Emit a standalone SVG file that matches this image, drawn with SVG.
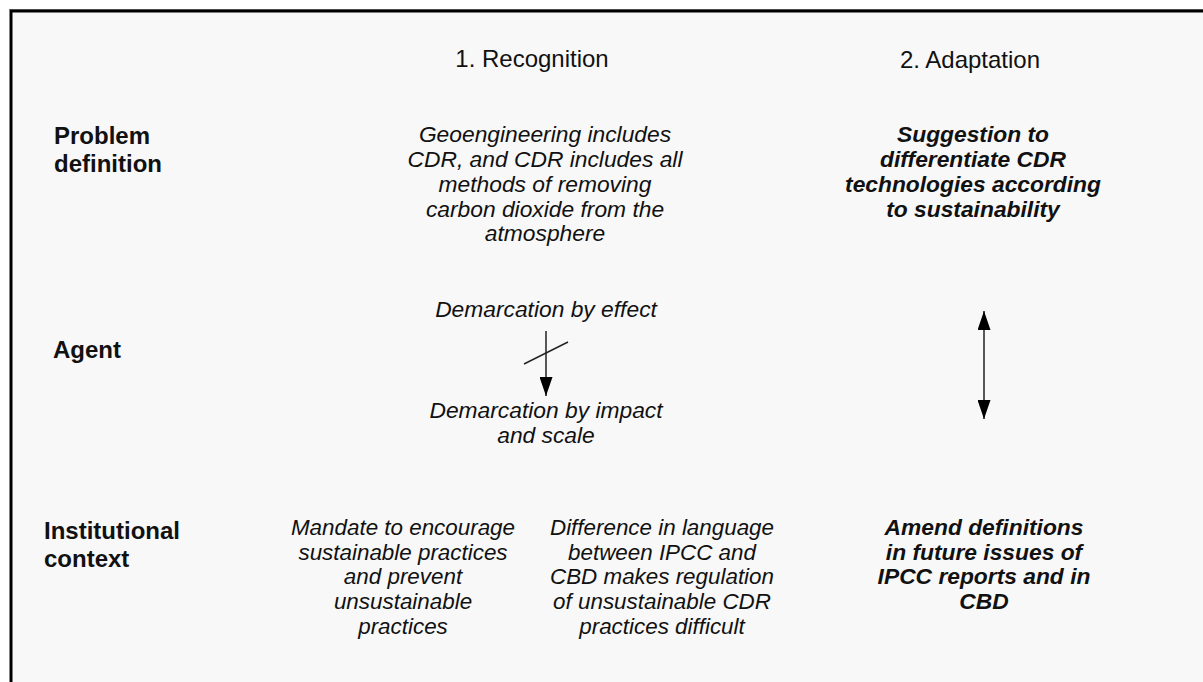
<svg xmlns="http://www.w3.org/2000/svg" width="1203" height="682" viewBox="0 0 1203 682">
<style>
text{font-family:"Liberation Sans",Arial,sans-serif;font-size:22.8px;fill:#111;text-anchor:middle}
.hd{font-size:24px}
.lbl{font-weight:bold;text-anchor:start;font-size:24px}
.it{font-style:italic}
.sm{font-size:22.4px}
.bi{font-style:italic;font-weight:bold}
.ln{stroke:#222;stroke-width:1.5;fill:none}
</style>
<defs>
<marker id="ah2" viewBox="0 0 10 10" refX="10" refY="5" markerWidth="19" markerHeight="13" markerUnits="userSpaceOnUse" orient="auto-start-reverse" preserveAspectRatio="none"><path d="M0,0 L10,5 L0,10 z" fill="#000"/></marker>
</defs>
<rect x="0" y="0" width="1203" height="682" fill="#fff"/>
<rect x="11" y="11" width="1192" height="671" fill="#f8f8f8"/>
<line x1="9" y1="9.5" x2="1203" y2="9.5" stroke="#999" stroke-width="1"/>
<path d="M11,682 V11 H1203" stroke="#000" stroke-width="3" fill="none"/>
<g id="col-recognition"><text class="hd" x="532" y="67">1. Recognition</text></g>
<g id="col-adaptation"><text class="hd" x="970" y="68">2. Adaptation</text></g>
<g id="row-problem"><text class="lbl" x="54" y="144">Problem</text><text class="lbl" x="54" y="172">definition</text></g>
<g id="row-agent"><text class="lbl" x="53" y="358">Agent</text></g>
<g id="row-institutional"><text class="lbl" x="44" y="539">Institutional</text><text class="lbl" x="44" y="567">context</text></g>
<g id="geo"><text class="it" x="545" y="142">Geoengineering includes</text><text class="it" x="545" y="167">CDR, and CDR includes all</text><text class="it" x="545" y="192">methods of removing</text><text class="it" x="545" y="217">carbon dioxide from the</text><text class="it" x="545" y="241">atmosphere</text></g>
<g id="suggestion"><text class="bi" x="973" y="142">Suggestion to</text><text class="bi" x="973" y="167">differentiate CDR</text><text class="bi" x="973" y="192">technologies according</text><text class="bi" x="973" y="217">to sustainability</text></g>
<g id="effect"><text class="it" x="546" y="317">Demarcation by effect</text></g>
<g id="impact"><text class="it" x="546" y="418">Demarcation by impact</text><text class="it" x="546" y="443">and scale</text></g>
<g id="mandate"><text class="it sm" x="403" y="535">Mandate to encourage</text><text class="it sm" x="403" y="559.5">sustainable practices</text><text class="it sm" x="403" y="584">and prevent</text><text class="it sm" x="403" y="609">unsustainable</text><text class="it sm" x="403" y="633.5">practices</text></g>
<g id="difference"><text class="it sm" x="662" y="535">Difference in language</text><text class="it sm" x="662" y="559.5">between IPCC and</text><text class="it sm" x="662" y="584">CBD makes regulation</text><text class="it sm" x="662" y="609">of unsustainable CDR</text><text class="it sm" x="662" y="633.5">practices difficult</text></g>
<g id="amend"><text class="bi" x="984" y="535">Amend definitions</text><text class="bi" x="984" y="559.5">in future issues of</text><text class="bi" x="984" y="584">IPCC reports and in</text><text class="bi" x="984" y="609">CBD</text></g>
<g id="connectors">
<line class="ln" x1="546" y1="331" x2="546" y2="396" marker-end="url(#ah2)"/>
<line class="ln" x1="524" y1="364" x2="568" y2="342"/>
<line class="ln" x1="984" y1="311" x2="984" y2="419" marker-start="url(#ah2)" marker-end="url(#ah2)"/>
</g>
</svg>
